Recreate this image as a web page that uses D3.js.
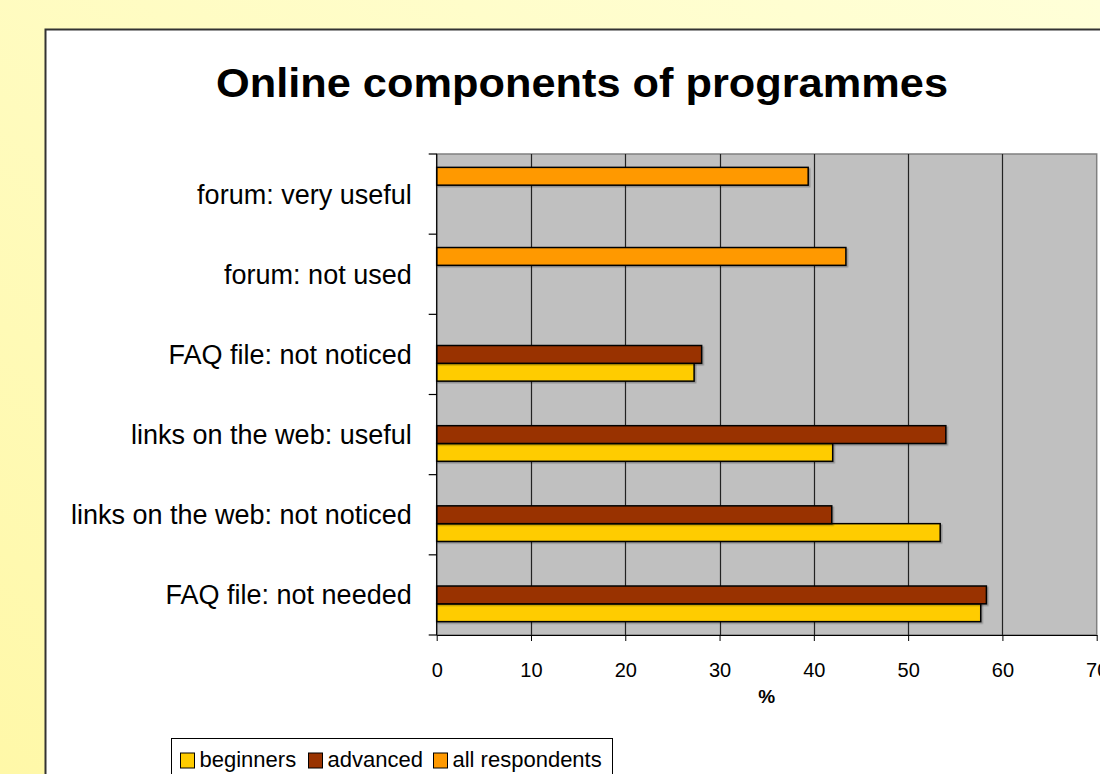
<!DOCTYPE html>
<html>
<head>
<meta charset="utf-8">
<script src="https://cdn.jsdelivr.net/npm/d3@7/dist/d3.min.js"></script>
<style>
  html, body { margin: 0; padding: 0; }
  body { width: 1100px; height: 774px; overflow: hidden; font-family: "Liberation Sans", Arial, sans-serif; }
</style>
</head>
<body>
<svg id="chart" width="1100" height="774"></svg>
<script>
// Categories, listed top to bottom
const categories = [
  "forum: very useful ",
  "forum: not used",
  "FAQ file: not noticed",
  "links on the web: useful",
  "links on the web: not noticed",
  "FAQ file: not needed"
];
const seriesNames = ["beginners", "advanced", "all respondents"];
const seriesColors = ["#FFCC00", "#993300", "#FF9900"];
// Percent values per series (null = no bar)
const beginners      = [null, null, 27.3, 42.0, 53.4, 57.7];
const advanced       = [null, null, 28.1, 54.0, 41.9, 58.3];
const allRespondents = [39.4, 43.4, null, null, null, null];
const xTicks = [0, 10, 20, 30, 40, 50, 60, 70];

const series = [beginners, advanced, allRespondents];
const FONT = "Liberation Sans, Arial, sans-serif";

const svg = d3.select("#chart");

// page background
const defs = svg.append("defs");
const bg = defs.append("linearGradient").attr("id", "bg")
  .attr("x1", "0").attr("y1", "1").attr("x2", "1").attr("y2", "0");
bg.append("stop").attr("offset", "0").attr("stop-color", "#FFF8A8");
bg.append("stop").attr("offset", "1").attr("stop-color", "#FFFFD8");
svg.append("rect").attr("width", 1100).attr("height", 774).attr("fill", "url(#bg)");

// soft drop shadow for the bars
const sh = defs.append("filter").attr("id", "barShadow")
  .attr("x", "-5%").attr("y", "-20%").attr("width", "110%").attr("height", "160%");
sh.append("feDropShadow").attr("dx", 1.5).attr("dy", 1.5).attr("stdDeviation", 0.6)
  .attr("flood-color", "#000").attr("flood-opacity", 0.25);

// chart frame
svg.append("rect").attr("x", 45.5).attr("y", 29.5).attr("width", 1100).attr("height", 800)
  .attr("fill", "#fff").attr("stroke", "#333").attr("stroke-width", 2);

// title
svg.append("text").attr("x", 582).attr("y", 97).attr("text-anchor", "middle")
  .attr("font-size", 41).attr("font-weight", "bold").attr("fill", "#000")
  .attr("textLength", 732).attr("lengthAdjust", "spacingAndGlyphs")
  .text("Online components of programmes");

// plot area
const plot = { left: 436.7, right: 1096.7, top: 154, bottom: 635 };
const x = d3.scaleLinear().domain([0, 70]).range([plot.left, plot.right]);
const y = d3.scaleBand().domain(categories).range([plot.top, plot.bottom]);
const groupInner = d3.scaleBand().domain([2, 1, 0])
  .range([0, y.bandwidth()]).paddingOuter(0.75).paddingInner(0);

svg.append("rect").attr("x", plot.left).attr("y", plot.top)
  .attr("width", plot.right - plot.left).attr("height", plot.bottom - plot.top)
  .attr("fill", "#C0C0C0").attr("stroke", "#808080").attr("stroke-width", 1.5);

// vertical gridlines
svg.append("g").selectAll("line").data(xTicks.slice(1, -1)).join("line")
  .attr("x1", d => Math.round(x(d)) + 0.5).attr("x2", d => Math.round(x(d)) + 0.5)
  .attr("y1", plot.top).attr("y2", plot.bottom)
  .attr("stroke", "#222").attr("stroke-width", 1.2);

// bars
series.forEach((vals, si) => {
  const g = svg.append("g").attr("filter", "url(#barShadow)");
  g.selectAll("rect").data(vals.map((v, i) => ({ v, c: categories[i] })).filter(d => d.v != null))
    .join("rect")
    .attr("x", x(0))
    .attr("y", d => y(d.c) + groupInner(si))
    .attr("width", d => x(d.v) - x(0))
    .attr("height", groupInner.bandwidth())
    .attr("fill", seriesColors[si])
    .attr("stroke", "#000").attr("stroke-width", 1.5);
});

// x axis
const xAxis = svg.append("g").attr("transform", `translate(0,${plot.bottom})`)
  .call(d3.axisBottom(x).tickValues(xTicks).tickSize(6).tickPadding(22).tickSizeOuter(0));
xAxis.select(".domain").attr("stroke", "#000").attr("stroke-width", 1.2);
xAxis.selectAll(".tick line").attr("stroke", "#000");
xAxis.selectAll("text").attr("font-size", 20).attr("font-family", FONT).attr("fill", "#000");

// y axis
const yAxis = svg.append("g").attr("transform", `translate(${plot.left},0)`)
  .call(d3.axisLeft(y).tickSize(0).tickPadding(25));
yAxis.select(".domain").remove();
yAxis.selectAll("text").attr("font-size", 27).attr("font-family", FONT)
  .attr("fill", "#000").attr("dy", "0.35em");
// category separator ticks
const edges = categories.map(c => y(c)).concat([plot.bottom]);
svg.append("g").selectAll("line").data(edges).join("line")
  .attr("x1", plot.left - 8).attr("x2", plot.left)
  .attr("y1", d => d).attr("y2", d => d)
  .attr("stroke", "#000").attr("stroke-width", 1.2);
svg.append("line").attr("x1", plot.left).attr("x2", plot.left)
  .attr("y1", plot.top).attr("y2", plot.bottom)
  .attr("stroke", "#000").attr("stroke-width", 1.2);

// axis title
svg.append("text").attr("x", x(35)).attr("y", 703).attr("text-anchor", "middle")
  .attr("font-size", 19).attr("font-weight", "bold").text("%");

// legend
const legend = svg.append("g").attr("transform", "translate(171.5,738.5)");
legend.append("rect").attr("width", 441).attr("height", 60)
  .attr("fill", "#fff").attr("stroke", "#000").attr("stroke-width", 1);
const legendX = [9, 137, 262];
const item = legend.selectAll("g").data(seriesNames).join("g")
  .attr("transform", (d, i) => `translate(${legendX[i]},0)`);
item.append("rect").attr("y", 14.5).attr("width", 14).attr("height", 15)
  .attr("fill", (d, i) => seriesColors[i]).attr("stroke", "#000").attr("stroke-width", 1);
item.append("text").attr("x", 19).attr("y", 28).attr("font-size", 22).text(d => d);
</script>
</body>
</html>
